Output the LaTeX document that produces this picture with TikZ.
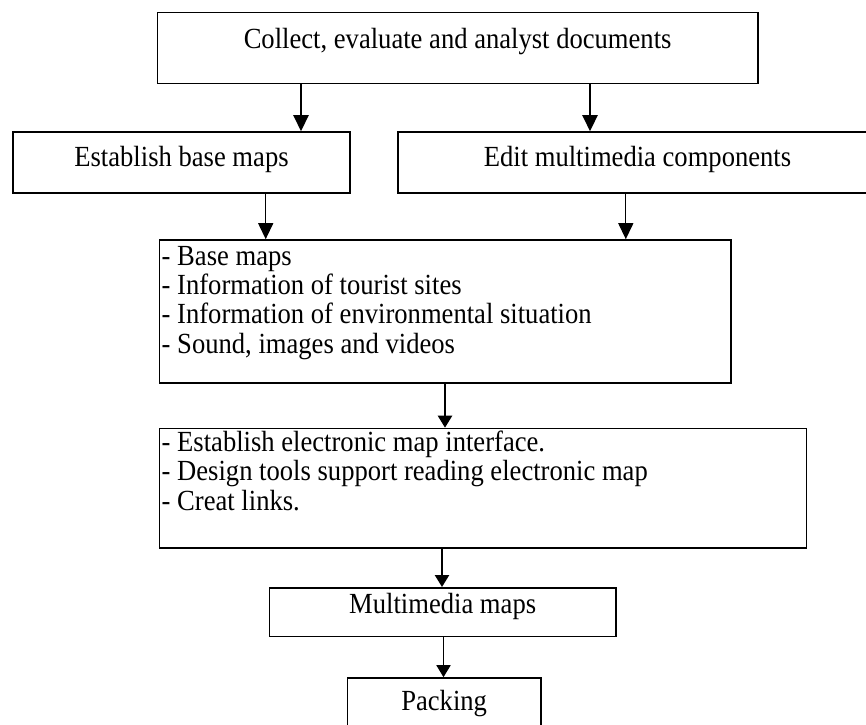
\documentclass[tikz,border=0pt]{standalone}
\usepackage{fontspec}
\setmainfont{Liberation Serif}[FakeStretch=0.911]
\usetikzlibrary{arrows.meta}
\begin{document}
\begin{tikzpicture}[x=1pt,y=-1pt,
  box/.style={draw=black,line width=1.6pt,rectangle,inner sep=0pt,fill=none},
  txt/.style={inner sep=0pt,font=\fontsize{29.2pt}{29.4pt}\selectfont},
  arrthick/.style={line width=2.5pt,-{Triangle[width=15pt,length=16pt]}},
  arrthin/.style={line width=1.3pt,-{Triangle[width=15pt,length=16pt]}},
  arrlow/.style={line width=2.4pt,-{Triangle[width=14pt,length=12pt]}},
  arrlowthin/.style={line width=1.8pt,-{Triangle[width=14pt,length=12pt]}}]
\useasboundingbox[fill=white] (0,0) rectangle (866,724);
% boxes
\node[box,minimum width=600.4pt,minimum height=71.1pt] (b1) at (457.6,48.05) {};
\node[box,minimum width=337pt,minimum height=61pt] (b2) at (181.5,162.5) {};
\node[box,minimum width=479pt,minimum height=61pt] (b3) at (637.5,162.5) {};
\node[box,minimum width=571.4pt,minimum height=143.2pt] (b4) at (445,311.6) {};
\node[box,minimum width=646.9pt,minimum height=119.5pt] (b5) at (483,488.25) {};
\node[box,minimum width=346.3pt,minimum height=48.5pt] (b6) at (442.65,612.05) {};
\node[box,minimum width=193.7pt,minimum height=62pt] (b7) at (444.15,709) {};
% texts
\node[txt,anchor=base] (t1) at (457.6,48) {Collect, evaluate and analyst documents};
\node[txt,anchor=base] (t2) at (181.5,166.5) {Establish base maps};
\node[txt,anchor=base] (t3) at (637.5,166.5) {Edit multimedia components};
\node[txt,anchor=base west] (t4a) at (161.5,265) {- Base maps};
\node[txt,anchor=base west] (t4b) at (161.5,294.4) {- Information of tourist sites};
\node[txt,anchor=base west] (t4c) at (161.5,323.8) {- Information of environmental situation};
\node[txt,anchor=base west] (t4d) at (161.5,353.2) {- Sound, images and videos};
\node[txt,anchor=base west] (t5a) at (161.5,451.5) {- Establish electronic map interface.};
\node[txt,anchor=base west] (t5b) at (161.5,480.9) {- Design tools support reading electronic map};
\node[txt,anchor=base west] (t5c) at (161.5,510.3) {- Creat links.};
\node[txt,anchor=base] (t6) at (442.65,613) {Multimedia maps};
\node[txt,anchor=base] (t7) at (444.15,710.5) {Packing};
% connectors
\draw[arrthick] (301,0 |- b1.south) -- (301,0 |- b2.north);
\draw[arrthick] (590,0 |- b1.south) -- (590,0 |- b3.north);
\draw[arrthin] (265.7,0 |- b2.south) -- (265.7,0 |- b4.north);
\draw[arrthin] (625.8,0 |- b3.south) -- (625.8,0 |- b4.north);
\draw[arrlow] (445,0 |- b4.south) -- (445,0 |- b5.north);
\draw[arrlow] (442,0 |- b5.south) -- (442,0 |- b6.north);
\draw[arrlowthin] (443.5,0 |- b6.south) -- (443.5,0 |- b7.north);
\end{tikzpicture}
\end{document}
